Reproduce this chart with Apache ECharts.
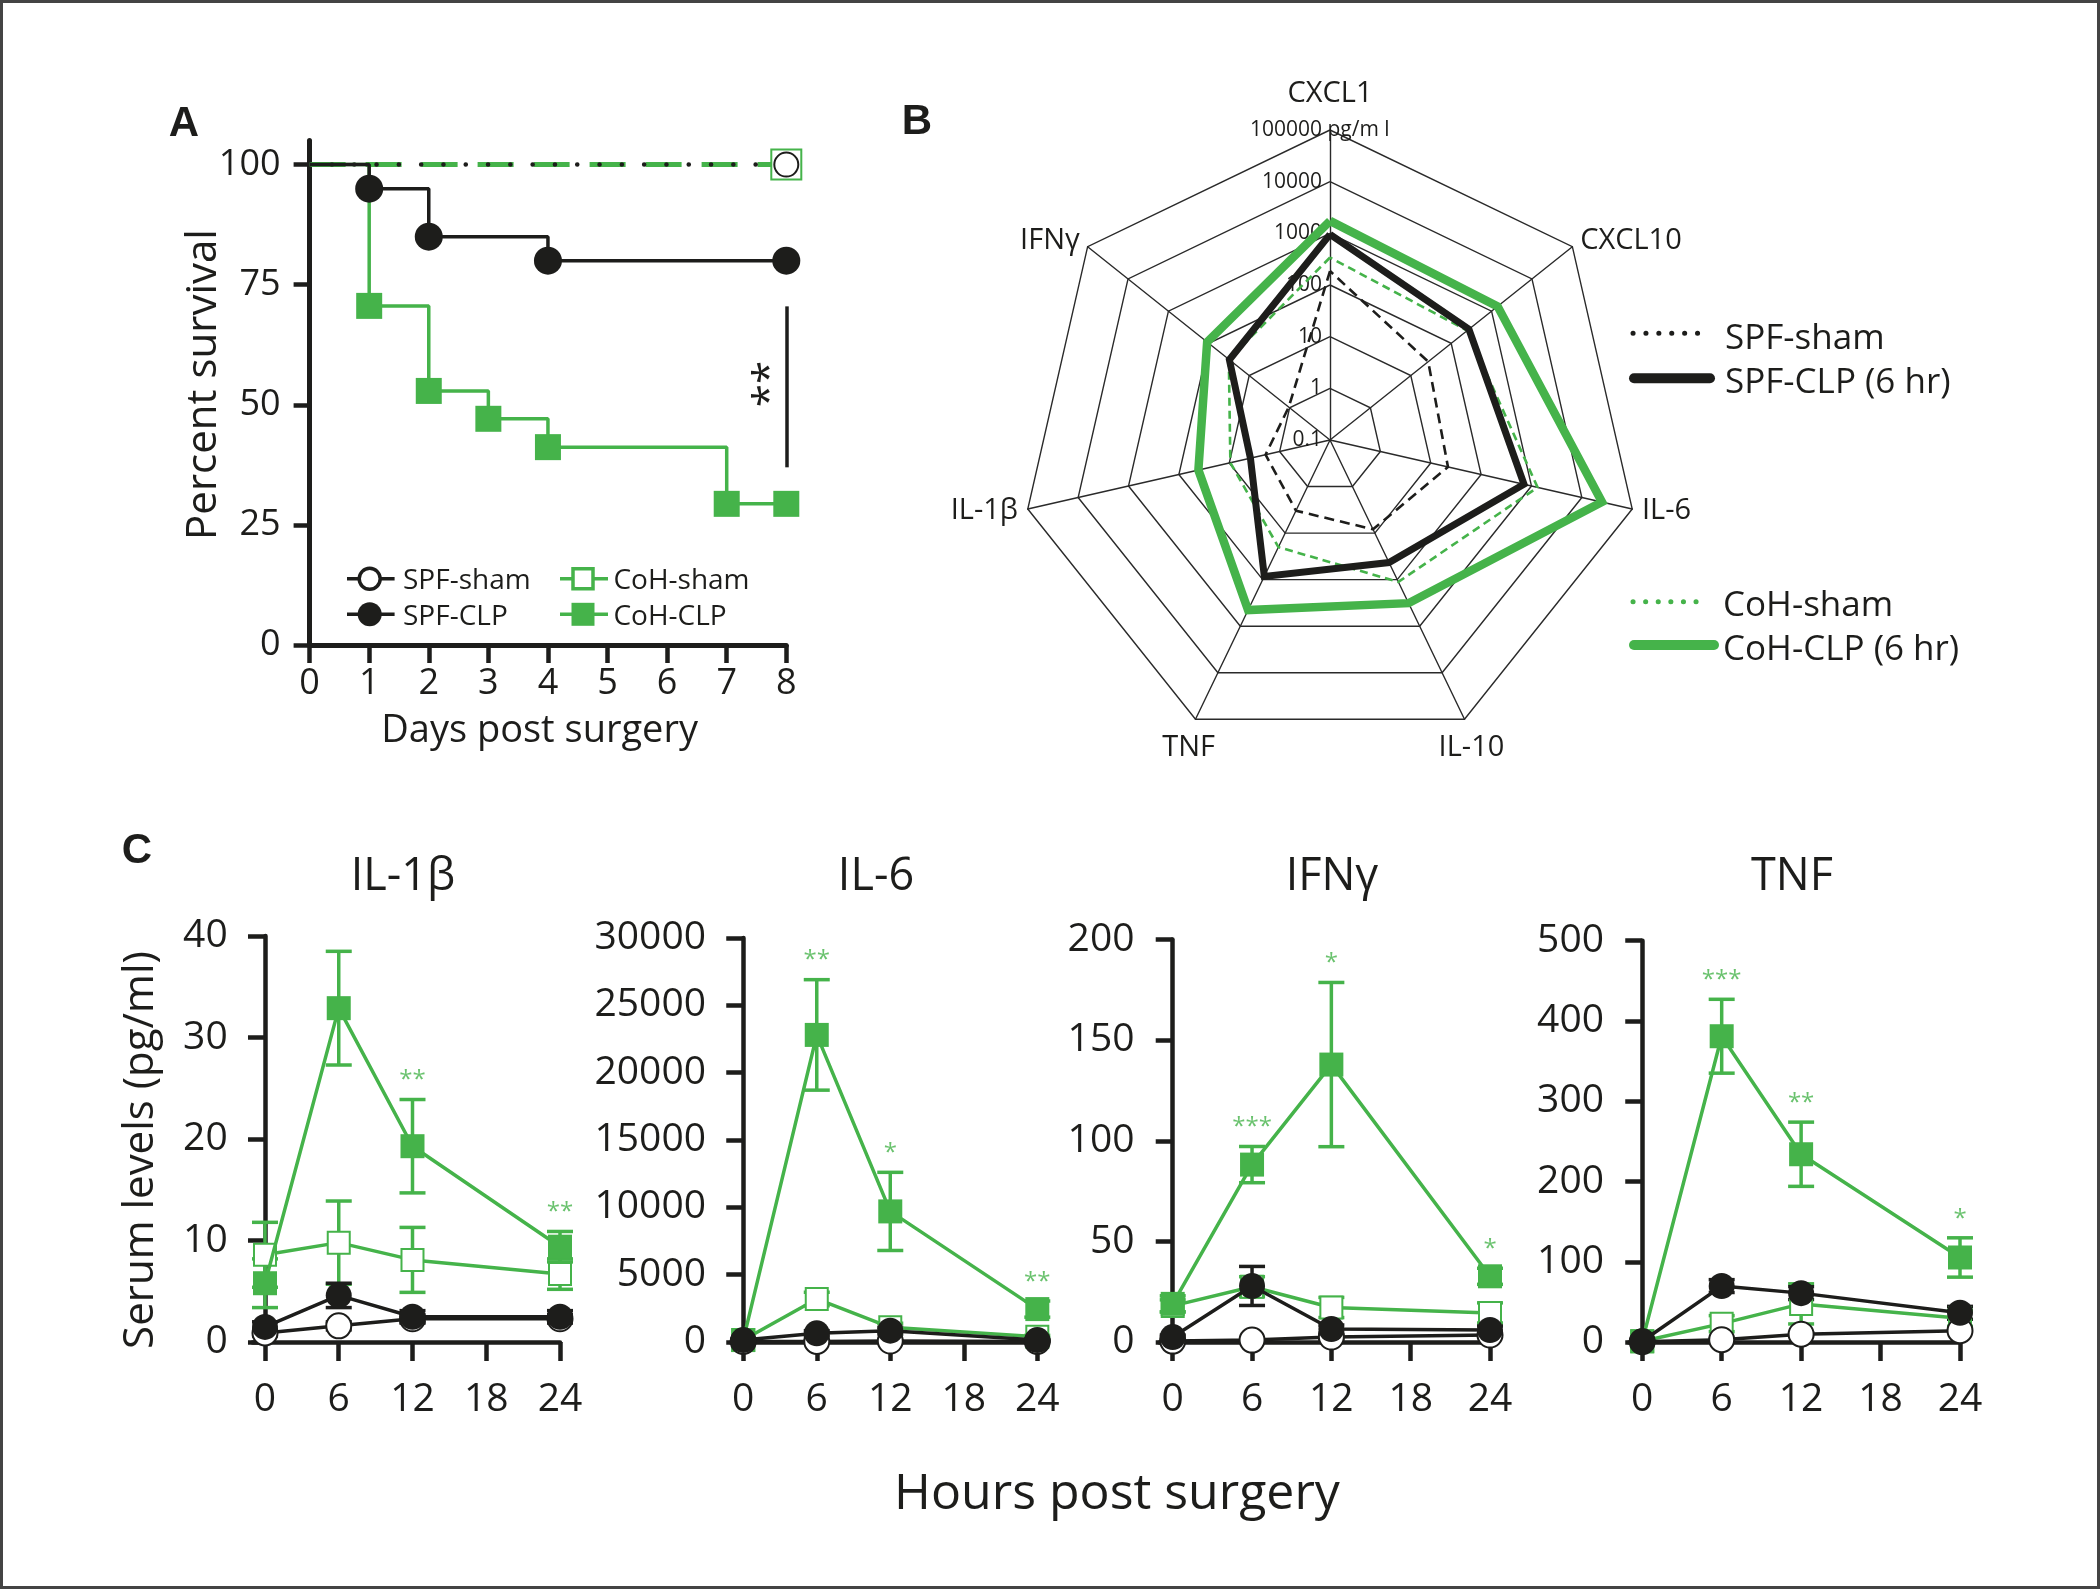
<!DOCTYPE html>
<html><head><meta charset="utf-8">
<script src="https://cdn.jsdelivr.net/npm/echarts@6/dist/echarts.min.js"></script>
<style>html,body{margin:0;padding:0;background:#fff}#c{width:2100px;height:1589px}</style>
</head><body><div id="c"></div>
<script>
// ================= DATA =================
// Panel A – Kaplan–Meier survival (%)
const daysSpfClp = [0, 1, 2, 4, 8];
const survSpfClp = [100, 95, 85, 80, 80];
const daysCohClp = [0, 1, 2, 3, 4, 7, 8];
const survCohClp = [100, 70.6, 52.9, 47.1, 41.2, 29.4, 29.4];
const daysSham = [0, 8];
const survSpfSham = [100, 100];
const survCohSham = [100, 100];
const survTicks = [0, 25, 50, 75, 100];
const survSigSpan = [37, 70.5];
const survSigLabel = '**';

// Panel B – radar, serum pg/ml (log scale), in radar drawing order
const radarAxes = ['CXCL1', 'IFNγ', 'IL-1β', 'TNF', 'IL-10', 'IL-6', 'CXCL10'];
const radarSpfSham = [186, 1.05, 1.9, 3.3, 8.3, 22, 27];
const radarSpfClp  = [955, 31, 3.8, 85, 43, 710, 275];
const radarCohSham = [340, 32, 9.5, 20, 112, 1320, 250];
const radarCohClp  = [1740, 110, 41, 450, 320, 25100, 1410];
const radarTickLabels = ['0.1', '1', '10', '100', '1000', '10000', '100000'];
const radarUnit = ' pg/m l';

// Panel C – serum levels (pg/ml) vs hours
const hours = [0, 6, 12, 24];
const hourTicks = [0, 6, 12, 18, 24];
const cytokines = ['IL-1β', 'IL-6', 'IFNγ', 'TNF'];
const yMax = [40, 30000, 200, 500];
const yStep = [10, 5000, 50, 100];

const il1bSpfSham = [0.9, 1.6, 2.3, 2.3];
const il1bSpfClp  = [1.5, 4.6, 2.5, 2.5];
const il1bCohSham = [8.6, 9.8, 8.1, 6.7];
const il1bCohClp  = [5.8, 32.9, 19.3, 9.4];
const il1bSemSpfSham = [0.3, 0.4, 0.4, 0.4];
const il1bSemSpfClp  = [0.5, 1.2, 0.6, 0.6];
const il1bSemCohSham = [3.2, 4.1, 3.2, 1.5];
const il1bSemCohClp  = [2.4, 5.6, 4.6, 1.5];
const il1bStars = ['', '**', '**', '**'];

const il6SpfSham = [50, 50, 80, 50];
const il6SpfClp  = [150, 650, 850, 150];
const il6CohSham = [150, 3200, 1100, 400];
const il6CohClp  = [150, 22800, 9700, 2450];
const il6SemSpfSham = [20, 20, 30, 20];
const il6SemSpfClp  = [50, 200, 250, 50];
const il6SemCohSham = [50, 500, 300, 100];
const il6SemCohClp  = [50, 4100, 2900, 600];
const il6Stars = ['', '**', '*', '**'];

const ifngSpfSham = [0.5, 1, 2.5, 3.5];
const ifngSpfClp  = [2.5, 27.9, 6.5, 6];
const ifngCohSham = [18, 27.5, 17.2, 14.5];
const ifngCohClp  = [19, 88.2, 137.9, 32.7];
const ifngSemSpfSham = [0.3, 0.5, 1, 1];
const ifngSemSpfClp  = [1, 9.7, 2, 2];
const ifngSemCohSham = [3, 5, 5, 5];
const ifngSemCohClp  = [4, 9, 40.8, 4];
const ifngStars = ['', '***', '*', '*'];

const tnfSpfSham = [0.5, 3, 9.8, 14.2];
const tnfSpfClp  = [1, 69.8, 61, 36.5];
const tnfCohSham = [1, 23, 47.6, 29.8];
const tnfCohClp  = [1, 381, 234, 105.4];
const tnfSemSpfSham = [0.5, 1, 2, 2];
const tnfSemSpfClp  = [1, 8, 8, 8];
const tnfSemCohSham = [1, 10, 25, 10];
const tnfSemCohClp  = [1, 46, 40, 24.5];
const tnfStars = ['', '***', '**', '*'];

// ================= STYLE =================
const F = "'Open Sans','Noto Sans',sans-serif";
const FB = "'Liberation Sans',Arial,sans-serif";
const K = '#1d1d1b';
const G = '#45b34a';

const cPanels = [
  {m: {spfSham: il1bSpfSham, spfClp: il1bSpfClp, cohSham: il1bCohSham, cohClp: il1bCohClp},
   s: {spfSham: il1bSemSpfSham, spfClp: il1bSemSpfClp, cohSham: il1bSemCohSham, cohClp: il1bSemCohClp}, stars: il1bStars},
  {m: {spfSham: il6SpfSham, spfClp: il6SpfClp, cohSham: il6CohSham, cohClp: il6CohClp},
   s: {spfSham: il6SemSpfSham, spfClp: il6SemSpfClp, cohSham: il6SemCohSham, cohClp: il6SemCohClp}, stars: il6Stars},
  {m: {spfSham: ifngSpfSham, spfClp: ifngSpfClp, cohSham: ifngCohSham, cohClp: ifngCohClp},
   s: {spfSham: ifngSemSpfSham, spfClp: ifngSemSpfClp, cohSham: ifngSemCohSham, cohClp: ifngSemCohClp}, stars: ifngStars},
  {m: {spfSham: tnfSpfSham, spfClp: tnfSpfClp, cohSham: tnfCohSham, cohClp: tnfCohClp},
   s: {spfSham: tnfSemSpfSham, spfClp: tnfSemSpfClp, cohSham: tnfSemCohSham, cohClp: tnfSemCohClp}, stars: tnfStars}
];
const cGroups = [
  {key: 'cohSham', name: 'CoH-sham', color: G, symbol: 'emptyRect', size: 22, z: 2},
  {key: 'cohClp',  name: 'CoH-CLP',  color: G, symbol: 'rect', size: 24, z: 3},
  {key: 'spfSham', name: 'SPF-sham', color: K, symbol: 'emptyCircle', size: 25, z: 4},
  {key: 'spfClp',  name: 'SPF-CLP',  color: K, symbol: 'circle', size: 26, z: 5}
];
const cGrids = [
  {left: 252.7, top: 936.1, width: 307.3, height: 406},
  {left: 731,   top: 937.9, width: 306.3, height: 404.2},
  {left: 1159.5, top: 939.6, width: 330.5, height: 402.5},
  {left: 1629,  top: 940.7, width: 331,   height: 401.4}
];
const cTitleX = [403, 876, 1332, 1792];

// ================= BUILD =================
function errRender(params, api) {
  const x = api.value(0), lo = api.value(1), hi = api.value(2);
  const a = api.coord([x, lo]), b = api.coord([x, hi]);
  const w = 13;
  const st = {stroke: api.visual('color'), lineWidth: 3.5};
  return {type: 'group', children: [
    {type: 'line', shape: {x1: a[0], y1: a[1], x2: b[0], y2: b[1]}, style: st},
    {type: 'line', shape: {x1: a[0] - w, y1: a[1], x2: a[0] + w, y2: a[1]}, style: st},
    {type: 'line', shape: {x1: b[0] - w, y1: b[1], x2: b[0] + w, y2: b[1]}, style: st}
  ]};
}
function kmPoints(days, surv) {
  return days.map((d, i) => i === 0 ? {value: [d, surv[i]], symbol: 'none'} : {value: [d, surv[i]]});
}

const series = [];
// ---- Panel A
series.push({type: 'line', name: 'A CoH-sham', xAxisIndex: 0, yAxisIndex: 0, data: kmPoints(daysSham, survCohSham),
  symbol: 'emptyRect', symbolSize: 30, clip: false, z: 2,
  lineStyle: {color: G, width: 5, type: [36, 20]}, itemStyle: {color: G, borderWidth: 5}});
series.push({type: 'line', name: 'A SPF-sham', xAxisIndex: 0, yAxisIndex: 0, data: kmPoints(daysSham, survSpfSham),
  symbol: 'emptyCircle', symbolSize: 24, clip: false, z: 3,
  lineStyle: {color: K, width: 4.5, type: [0.1, 22.2], cap: 'round'}, itemStyle: {color: K, borderWidth: 4}});
series.push({type: 'line', name: 'A CoH-CLP', xAxisIndex: 0, yAxisIndex: 0, data: kmPoints(daysCohClp, survCohClp),
  step: 'end', symbol: 'rect', symbolSize: 26, clip: false, z: 4,
  lineStyle: {color: G, width: 3.5}, itemStyle: {color: G},
  markLine: {symbol: 'none', silent: true, label: {show: false},
    lineStyle: {color: K, width: 3.5, type: 'solid'},
    data: [[{coord: [8, survSigSpan[0]]}, {coord: [8, survSigSpan[1]]}]]}});
series.push({type: 'line', name: 'A SPF-CLP', xAxisIndex: 0, yAxisIndex: 0, data: kmPoints(daysSpfClp, survSpfClp),
  step: 'end', symbol: 'circle', symbolSize: 28, clip: false, z: 5,
  lineStyle: {color: K, width: 3.5}, itemStyle: {color: K}});

// ---- Panel B radar
series.push({type: 'radar', name: 'B', symbol: 'none', z: 10, data: [
  {name: 'SPF-sham', value: radarSpfSham.map(Math.log10), itemStyle: {color: K}, lineStyle: {color: K, width: 2.6, type: [10, 6]}},
  {name: 'CoH-sham', value: radarCohSham.map(Math.log10), itemStyle: {color: G}, lineStyle: {color: G, width: 2.6, type: [8, 5]}},
  {name: 'SPF-CLP', value: radarSpfClp.map(Math.log10), itemStyle: {color: K}, lineStyle: {color: K, width: 7, join: 'miter'}},
  {name: 'CoH-CLP', value: radarCohClp.map(Math.log10), itemStyle: {color: G}, lineStyle: {color: G, width: 8.5, join: 'miter'}}
]});

// ---- Panel C
cPanels.forEach((p, k) => {
  const gi = k + 1;
  cGroups.forEach(g => {
    const means = p.m[g.key], sems = p.s[g.key];
    series.push({type: 'custom', name: 'C' + k + ' err ' + g.name, xAxisIndex: gi, yAxisIndex: gi, z: 1, silent: true,
      itemStyle: {color: g.color}, encode: {x: 0, y: [1, 2]}, clip: false,
      data: hours.map((h, i) => [h, Math.max(0, means[i] - sems[i]), means[i] + sems[i]]),
      renderItem: errRender});
  });
  cGroups.forEach(g => {
    series.push({type: 'line', name: 'C' + k + ' ' + g.name, xAxisIndex: gi, yAxisIndex: gi, z: g.z, clip: false,
      data: hours.map((h, i) => [h, p.m[g.key][i]]),
      symbol: g.symbol, symbolSize: g.size,
      lineStyle: {color: g.color, width: 3.5}, itemStyle: {color: g.color, borderWidth: 3.8}});
  });
  const cc = p.m.cohClp, cs = p.s.cohClp;
  series.push({type: 'scatter', name: 'C' + k + ' sig', xAxisIndex: gi, yAxisIndex: gi, z: 6, symbolSize: 1, silent: true,
    itemStyle: {color: 'rgba(0,0,0,0)'},
    label: {show: true, position: 'inside', formatter: '{b}', color: G, fontSize: 24, fontFamily: F, offset: [0, 7]},
    data: hours.map((h, i) => ({name: p.stars[i], value: [h, cc[i] + cs[i] + 0.065 * yMax[k]]})).filter(d => d.name)});
});

function cX(gi) {
  return {gridIndex: gi, type: 'value', min: -1, max: 24,
    axisLine: {show: true, onZero: false, lineStyle: {color: K, width: 4.5}},
    axisTick: {show: true, length: 19, lineStyle: {color: K, width: 4.5}, customValues: hourTicks},
    axisLabel: {fontSize: 39, fontFamily: F, color: K, margin: 38, customValues: hourTicks},
    splitLine: {show: false}};
}
function cY(gi) {
  return {gridIndex: gi, type: 'value', min: 0, max: yMax[gi - 1], interval: yStep[gi - 1],
    axisLine: {show: true, lineStyle: {color: K, width: 4.5}},
    axisTick: {show: true, length: 17, lineStyle: {color: K, width: 4.5}},
    axisLabel: {fontSize: 39, fontFamily: F, color: K, margin: 25, formatter: v => String(v)},
    splitLine: {show: false}};
}

function txt(x, y, text, size, o) {
  o = o || {};
  return {type: 'text', x: x, y: y, rotation: o.rot || 0, z: 100, silent: true,
    style: {text: text, fontSize: size, fontFamily: o.family || F, fontWeight: o.bold ? 'bold' : 'normal',
      fill: o.fill || K, align: o.align || 'center', verticalAlign: 'middle'}};
}
function seg(x1, y1, x2, y2, color, w, extra) {
  return {type: 'line', z: 100, silent: true, shape: {x1, y1, x2, y2},
    style: Object.assign({stroke: color, lineWidth: w}, extra || {})};
}

const graphic = [
  {type: 'rect', z: 0, silent: true, shape: {x: 1.5, y: 1.5, width: 2097, height: 1586}, style: {fill: 'none', stroke: '#444', lineWidth: 3}},
  // panel letters
  txt(184, 124, 'A', 42, {bold: true, family: FB}),
  txt(917, 122, 'B', 42, {bold: true, family: FB}),
  txt(137, 851, 'C', 42, {bold: true, family: FB}),
  // Panel A texts
  txt(204, 384.5, 'Percent survival', 42, {rot: Math.PI / 2}),
  txt(539.6, 731.5, 'Days post surgery', 38),
  txt(771, 384, survSigLabel, 42, {rot: Math.PI / 2}),
  // Panel A legend
  seg(347, 578.8, 394.6, 578.8, K, 3.5),
  {type: 'circle', z: 101, silent: true, shape: {cx: 369.7, cy: 578.8, r: 10.5}, style: {fill: '#fff', stroke: K, lineWidth: 3.5}},
  txt(403, 581.3, 'SPF-sham', 28, {align: 'left'}),
  seg(347, 614.3, 394.6, 614.3, K, 3.5),
  {type: 'circle', z: 101, silent: true, shape: {cx: 369.7, cy: 614.3, r: 12}, style: {fill: K}},
  txt(403, 616.8, 'SPF-CLP', 28, {align: 'left'}),
  seg(560, 578.8, 608, 578.8, G, 3.5),
  {type: 'rect', z: 101, silent: true, shape: {x: 573, y: 568.8, width: 20, height: 20}, style: {fill: '#fff', stroke: G, lineWidth: 3.5}},
  txt(613.4, 581.3, 'CoH-sham', 28, {align: 'left'}),
  seg(560, 614.3, 608, 614.3, G, 3.5),
  {type: 'rect', z: 101, silent: true, shape: {x: 571.5, y: 602.8, width: 23, height: 23}, style: {fill: G}},
  txt(613.4, 616.8, 'CoH-CLP', 28, {align: 'left'}),
  // Panel B legend
  seg(1633, 333.3, 1710, 333.3, K, 5, {lineDash: [0.1, 12.8], lineCap: 'round'}),
  txt(1725, 339, 'SPF-sham', 35, {align: 'left'}),
  seg(1634, 378.3, 1710, 378.3, K, 10, {lineCap: 'round'}),
  txt(1725, 383.5, 'SPF-CLP (6 hr)', 35, {align: 'left'}),
  seg(1633, 601.7, 1708, 601.7, G, 5, {lineDash: [0.1, 12.5], lineCap: 'round'}),
  txt(1723, 606.3, 'CoH-sham', 35, {align: 'left'}),
  seg(1634, 645, 1714, 645, G, 10, {lineCap: 'round'}),
  txt(1723, 650.5, 'CoH-CLP (6 hr)', 35, {align: 'left'}),
  // Panel C texts
  txt(141, 1150, 'Serum levels (pg/ml)', 42, {rot: Math.PI / 2}),
  txt(1117, 1494.5, 'Hours post surgery', 50)
];
cytokines.forEach((c, k) => graphic.push(txt(cTitleX[k], 877.4, c, 45)));

const centeredNames = {'TNF': true, 'IL-10': true};
const option = {
  backgroundColor: '#fff',
  animation: false,
  textStyle: {fontFamily: F},
  grid: [{left: 309.6, top: 140.6, width: 476.7, height: 504.5}].concat(cGrids),
  xAxis: [
    {gridIndex: 0, type: 'value', min: 0, max: 8, interval: 1,
      axisLine: {show: true, onZero: false, lineStyle: {color: K, width: 5}},
      axisTick: {show: true, length: 18, lineStyle: {color: K, width: 4.5}},
      axisLabel: {fontSize: 36, fontFamily: F, color: K, margin: 21},
      splitLine: {show: false}},
    cX(1), cX(2), cX(3), cX(4)
  ],
  yAxis: [
    {gridIndex: 0, type: 'value', min: 0, max: 105,
      axisLine: {show: true, lineStyle: {color: K, width: 5}},
      axisTick: {show: true, length: 16, lineStyle: {color: K, width: 4.5}, customValues: survTicks},
      axisLabel: {fontSize: 36, fontFamily: F, color: K, margin: 29, customValues: survTicks},
      splitLine: {show: false}},
    cY(1), cY(2), cY(3), cY(4)
  ],
  radar: {
    center: [1330, 440], radius: 310, startAngle: 90, shape: 'polygon', splitNumber: 6,
    nameGap: 10,
    axisName: {color: K, fontSize: 29, fontFamily: F},
    splitLine: {lineStyle: {color: '#2a2a2a', width: 1.4}},
    splitArea: {show: false},
    axisLine: {lineStyle: {color: '#2a2a2a', width: 1.4}},
    indicator: radarAxes.map((n, i) => {
      const ind = {name: n, min: -1, max: 5};
      if (centeredNames[n]) { ind.nameTextStyle = {align: 'center', verticalAlign: 'top'}; ind.nameGap = 16; }
      if (i === 0) {
        ind.nameGap = 22;
        ind.axisLabel = {show: true, fontSize: 21, fontFamily: F, color: K, margin: 8,
          formatter: function (v) {
            const j = Math.round(v) + 1;
            return j === radarTickLabels.length - 1
              ? '{n|' + radarTickLabels[j] + '}{u|' + radarUnit + '}'
              : radarTickLabels[j];
          },
          rich: {
            n: {fontSize: 21, fontFamily: F, color: K, align: 'left'},
            u: {fontSize: 21, fontFamily: F, color: K, align: 'left', width: 0}
          }};
      }
      return ind;
    })
  },
  series: series,
  graphic: graphic
};

const chart = echarts.init(document.getElementById('c'), null, {renderer: 'canvas', width: 2100, height: 1589});
chart.setOption(option);
</script>
</body></html>
